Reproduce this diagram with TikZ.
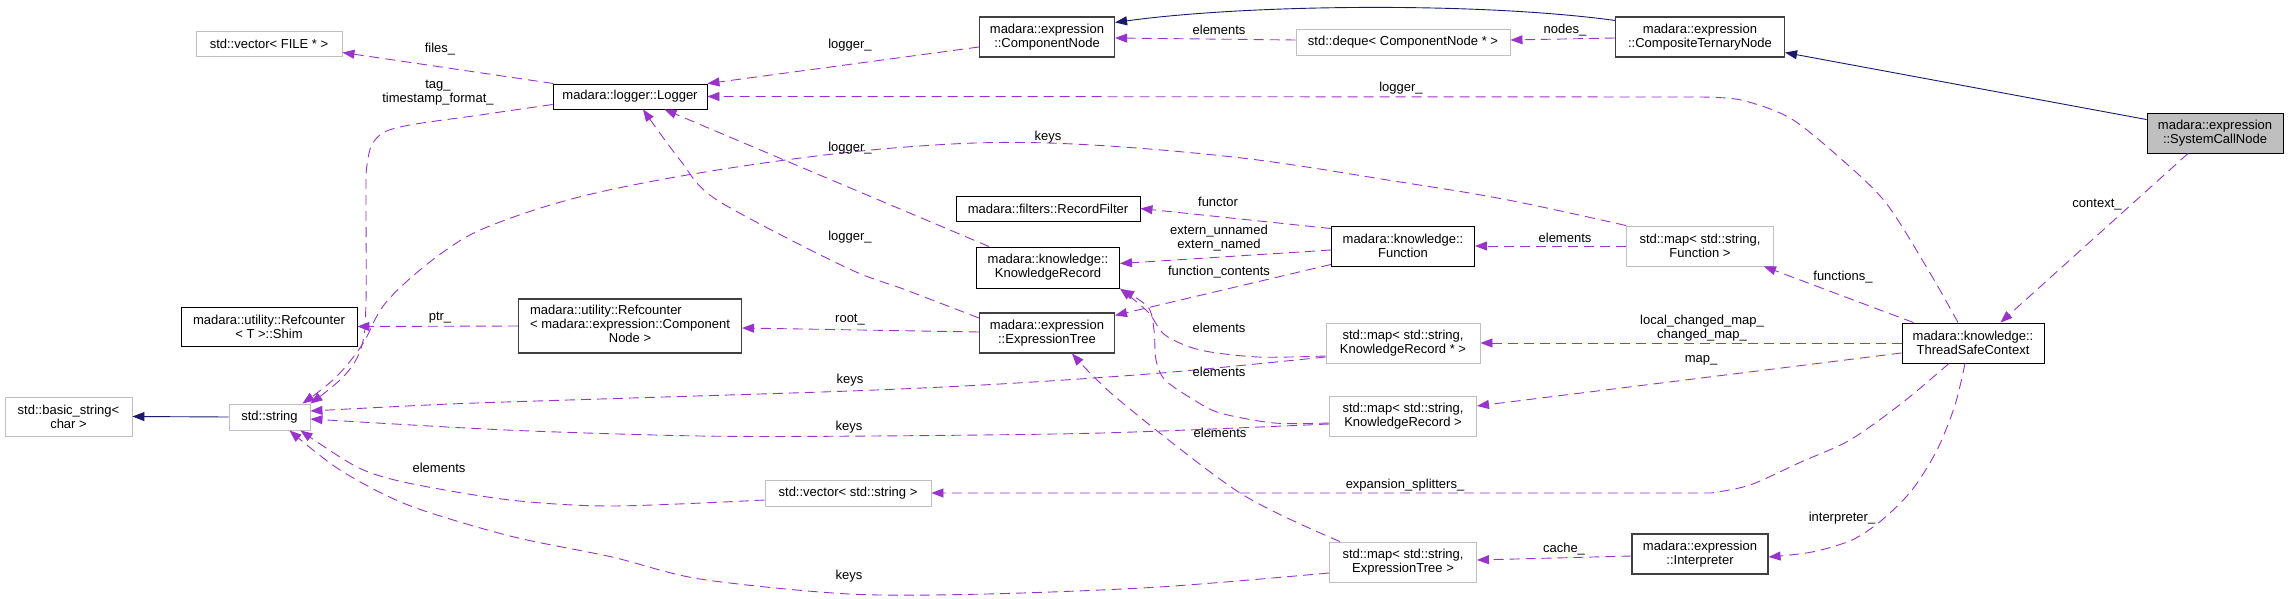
\documentclass[tikz,border=0pt]{standalone}
\usepackage{fontspec}
\setmainfont{Liberation Sans}
\usetikzlibrary{arrows.meta,calc}
\definecolor{dcol}{HTML}{9A32CD}
\definecolor{icol}{HTML}{191970}
\definecolor{gcol}{HTML}{BFBFBF}
\definecolor{dkcol}{HTML}{404040}
\newcommand\dgfont{\fontsize{13}{14}\selectfont}
\tikzset{
  box/.style={draw, rectangle, inner sep=0pt, align=center, font=\dgfont, line width=0.9pt},
  docbox/.style={box, draw=black},
  dkbox/.style={box, draw=dkcol, line width=1.1pt},
  gbox/.style={box, draw=gcol},
  dep/.style={draw=dcol, dash pattern=on 10pt off 6pt, line width=0.9pt, -{Triangle[length=12pt,width=9pt,fill=dcol]}},
  inh/.style={draw=icol, line width=0.9pt, -{Triangle[length=12pt,width=9pt,fill=icol]}},
  lab/.style={font=\dgfont, inner sep=0pt, align=center}
}
\begin{document}
\begin{tikzpicture}[x=1pt,y=-1pt]
\useasboundingbox (0,0) rectangle (2288,599);
% nodes
\node[docbox, fill=gcol, minimum width=136pt, minimum height=40pt] (sys) at (2215,133) {madara::expression\\::SystemCallNode};
\node[dkbox, minimum width=169pt, minimum height=40pt] (ctn) at (1700,37) {madara::expression\\::CompositeTernaryNode};
\node[dkbox, minimum width=135pt, minimum height=40pt] (cn) at (1047,37) {madara::expression\\::ComponentNode};
\node[gbox, minimum width=214pt, minimum height=26pt] (deq) at (1403,42) {std::deque< ComponentNode * >};
\node[docbox, minimum width=154pt, minimum height=25pt] (log) at (630,96.5) {madara::logger::Logger};
\node[gbox, minimum width=146pt, minimum height=25pt] (vf) at (269,43.5) {std::vector< FILE * >};
\node[docbox, minimum width=184pt, minimum height=25pt] (rf) at (1048,208.5) {madara::filters::RecordFilter};
\node[docbox, minimum width=143pt, minimum height=41pt] (kr) at (1048,267.5) {madara::knowledge::\\KnowledgeRecord};
\node[dkbox, minimum width=135pt, minimum height=40pt] (et) at (1047,333) {madara::expression\\::ExpressionTree};
\node[dkbox, minimum width=223pt, minimum height=54pt] (rc) at (630,326) {\begin{tabular}{@{}l@{}}madara::utility::Refcounter\\< madara::expression::Component\\\multicolumn{1}{@{}c@{}}{Node >}\end{tabular}};
\node[docbox, minimum width=176pt, minimum height=39pt] (shim) at (269,326.5) {madara::utility::Refcounter\\< T >::Shim};
\node[docbox, minimum width=143pt, minimum height=40pt] (fn) at (1403,246) {madara::knowledge::\\Function};
\node[gbox, minimum width=147pt, minimum height=40pt] (mf) at (1700,246) {std::map< std::string,\\Function >};
\node[docbox, minimum width=142pt, minimum height=40pt] (tsc) at (1973,343) {madara::knowledge::\\ThreadSafeContext};
\node[gbox, minimum width=154pt, minimum height=40pt] (mkp) at (1403,343) {std::map< std::string,\\KnowledgeRecord * >};
\node[gbox, minimum width=147pt, minimum height=40pt] (mk) at (1403,416) {std::map< std::string,\\KnowledgeRecord >};
\node[dkbox, minimum width=136pt, minimum height=40pt] (itp) at (1700,554) {madara::expression\\::Interpreter};
\node[gbox, minimum width=147pt, minimum height=40pt] (met) at (1403,562) {std::map< std::string,\\ExpressionTree >};
\node[gbox, minimum width=166pt, minimum height=26pt] (vs) at (848,493) {std::vector< std::string >};
\node[gbox, minimum width=81pt, minimum height=26pt] (str) at (269.5,417) {std::string};
\node[gbox, minimum width=127pt, minimum height=39pt] (bs) at (68.5,416.5) {std::basic\_string<\\char >};
% inheritance
\draw[inh] ($(sys.north west)+(0,7)$) -- ($(ctn.south east)+(0,-5)$);
\draw[inh] ($(ctn.north west)+(0,4)$) .. controls (1480,2) and (1250,4) .. ($(cn.north east)+(0,6)$);
\draw[inh] (str.west) -- (bs.east);
% usage
\draw[dep] ($(ctn.west)+(0,1)$) -- ($(deq.east)+(0,-2)$);
\draw[dep] ($(deq.west)+(0,-2)$) -- ($(cn.east)+(0,1)$);
\draw[dep] ($(cn.west)+(0,10)$) -- (log.north east);
\draw[dep] ($(log.north west)+(1,0)$) -- ($(vf.east)+(0,9)$);
\draw[dep] plot[smooth,tension=.6] coordinates {($(log.west)+(0,8)$) (480,115) (400,127) (375,140) (367,165) (366,200) (366,300) (362,345) (345,375) (str.north east)};
\draw[dep] plot[smooth,tension=.6] coordinates {(mf.north west) (1508,200) (1400,182) (1233,157) (1048,143) (906,147) (750,165) (600,192) (500,222) (446,250) (388,300) (362,345) (335,378) ($(str.north east)+(-8,0)$)};
\draw[dep] plot[smooth] coordinates {($(et.west)+(0,-15)$) (906,290) (845,267) (717,200) (680,160) ($(log.south)+(13,0)$)};
\draw[dep] ($(kr.north west)+(13,0)$) -- ($(log.south east)+(-43,0)$);
\draw[dep] plot[smooth] coordinates {($(tsc.north)+(-15,0)$) (1930,273) (1886,203) (1840,158) (1790,118) (1741,100) (1700,97)} -- (log.east);
\draw[dep] plot[smooth] coordinates {($(mkp.west)+(0,14)$) (1161,373) (1000,384) (850,391) (600,399) (450,404) ($(str.east)+(0,-6)$)};
\draw[dep] plot[smooth] coordinates {($(mk.west)+(0,8)$) (1102,433) (872,436) (700,436) (506,430) ($(str.east)+(0,2)$)};
\draw[dep] plot[smooth] coordinates {($(vs.west)+(0,7)$) (612,506) (510,500) (408,483) (357,467) ($(str.south east)+(-10,0)$)};
\draw[dep] plot[smooth] coordinates {($(met.west)+(0,11)$) (1159,587) (987,594) (849,594) (700,579) (612,557) (510,536) (408,505) (340,470) ($(str.south)+(20,0)$)};
\draw[dep] plot[smooth] coordinates {($(met.north west)+(11,0)$) (1240,493) (1119,400) ($(et.south)+(25,0)$)};
\draw[dep] plot[smooth] coordinates {($(mkp.west)+(0,13)$) (1258,357) (1200,350) (1165,335) (1148,312) (kr.south east)};
\draw[dep] plot[smooth] coordinates {($(mk.west)+(0,7)$) (1274,423) (1220,413) (1194,400) (1165,380) (1156,360) (1154,330) (1148,307) ($(kr.south east)+(2,1)$)};
\draw[dep] ($(fn.north west)+(0,3)$) -- (rf.east);
\draw[dep] ($(fn.west)+(0,4)$) -- ($(kr.east)+(0,-4)$);
\draw[dep] ($(fn.south west)+(0,-2)$) -- ($(et.north east)+(0,3)$);
\draw[dep] (mf.west) -- (fn.east);
\draw[dep] ($(tsc.north west)+(12,0)$) -- ($(mf.south east)+(-10,0)$);
\draw[dep] (tsc.west) -- (mkp.east);
\draw[dep] ($(tsc.west)+(0,10)$) -- ($(mk.east)+(0,-10)$);
\draw[dep] plot[smooth] coordinates {($(tsc.south)+(-24,0)$) (1902,403) (1850,440) (1801,462) (1750,485) (1711,493)} -- (vs.east);
\draw[dep] plot[smooth] coordinates {($(tsc.south)+(-8,0)$) (1955,405) (1937,450) (1912,490) (1882,520) (1852,540) (1812,552) ($(itp.east)+(0,3)$)};
\draw[dep] ($(itp.west)+(0,2)$) -- ($(met.east)+(0,-2)$);
\draw[dep] ($(sys.south)+(-27,0)$) -- ($(tsc.north east)+(-44,0)$);
\draw[dep] (rc.west) -- (shim.east);
\draw[dep] ($(et.west)+(0,-1)$) -- ($(rc.east)+(0,2)$);
% labels
\node[lab] (l1) at (1565,30) {nodes\_};
\node[lab] (l2) at (1219,30) {elements};
\node[lab] (l3) at (850,45) {logger\_};
\node[lab] (l4) at (440,49) {files\_};
\node[lab] (l5) at (438,93) {tag\_\\timestamp\_format\_};
\node[lab] (l6) at (1401,88) {logger\_};
\node[lab] (l7) at (1048,137) {keys};
\node[lab] (l8) at (850,148) {logger\_};
\node[lab] (l9) at (1218,202) {functor};
\node[lab] (l10) at (1219,238.5) {extern\_unnamed\\extern\_named};
\node[lab] (l11) at (1219,272) {function\_contents};
\node[lab] (l12) at (1565,238) {elements};
\node[lab] (l13) at (1843,277) {functions\_};
\node[lab] (l14) at (850,237) {logger\_};
\node[lab] (l15) at (440,318) {ptr\_};
\node[lab] (l16) at (850,320) {root\_};
\node[lab] (l17) at (1219,328) {elements};
\node[lab] (l18) at (1702,328.5) {local\_changed\_map\_\\changed\_map\_};
\node[lab] (l19) at (1701,360) {map\_};
\node[lab] (l20) at (850,380) {keys};
\node[lab] (l21) at (1219,372) {elements};
\node[lab] (l22) at (849,427) {keys};
\node[lab] (l23) at (1220,433) {elements};
\node[lab] (l24) at (439,468) {elements};
\node[lab] (l25) at (1405,485) {expansion\_splitters\_};
\node[lab] (l26) at (1842,518) {interpreter\_};
\node[lab] (l27) at (1564,549) {cache\_};
\node[lab] (l28) at (849,576) {keys};
\node[lab] (l29) at (2097,205) {context\_};
\end{tikzpicture}
\end{document}
